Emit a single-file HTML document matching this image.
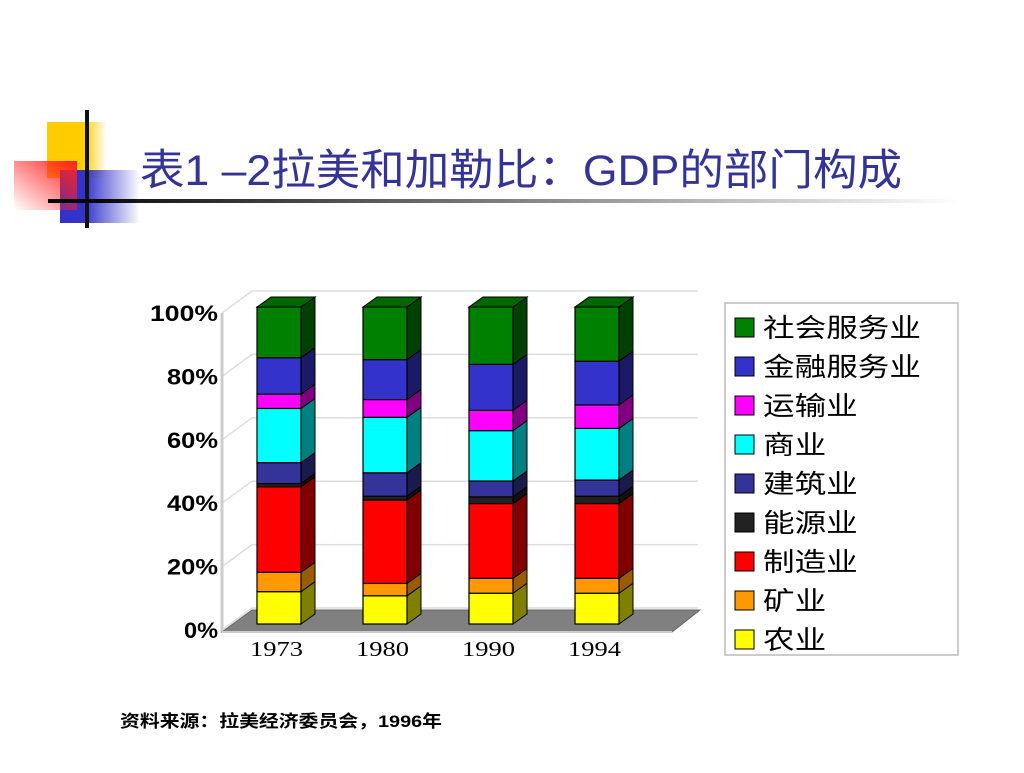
<!DOCTYPE html>
<html><head><meta charset="utf-8">
<style>
body{margin:0;width:1024px;height:768px;background:#fff;overflow:hidden;font-family:"Liberation Sans","Noto Sans CJK SC",sans-serif;}
</style></head>
<body>
<svg width="1024" height="768" viewBox="0 0 1024 768">
<defs>
<linearGradient id="gy" x1="0" x2="1"><stop offset="0.6" stop-color="#ffcc00"/><stop offset="1" stop-color="#ffcc00" stop-opacity="0"/></linearGradient>
<linearGradient id="gr" x1="1" x2="0" y1="0" y2="1"><stop offset="0" stop-color="#ff2020"/><stop offset="1" stop-color="#ff2020" stop-opacity="0"/></linearGradient>
<linearGradient id="gb" x1="0" x2="1"><stop offset="0.3" stop-color="#3333cc"/><stop offset="1" stop-color="#3333cc" stop-opacity="0"/></linearGradient>
<linearGradient id="gl" x1="0" x2="1"><stop offset="0" stop-color="#000"/><stop offset="1" stop-color="#000" stop-opacity="0"/></linearGradient>
</defs>
<g>
<rect x="47" y="122" width="60" height="56" fill="url(#gy)"/>
<rect x="60" y="170" width="80" height="53" fill="url(#gb)"/>
<rect x="14" y="161" width="63" height="49" fill="url(#gr)"/>
<rect x="85" y="110" width="4" height="118" fill="#111"/>
<rect x="48" y="199" width="912" height="4" fill="url(#gl)"/>
</g>
<text x="140" y="185" font-size="43" fill="#333399" textLength="762" lengthAdjust="spacingAndGlyphs">表1 –2拉美和加勒比：GDP的部门构成</text>
<g id="chart"></g>
<g>
<rect x="725" y="303" width="233" height="352" fill="#fff" stroke="#bbb" stroke-width="1.5"/>
<g id="legend"></g>
</g>
<text x="120" y="727" font-size="17" font-weight="bold" textLength="322" lengthAdjust="spacingAndGlyphs">资料来源：拉美经济委员会，1996年</text>
</svg>
<script>
const years=["1973","1980","1990","1994"];
const agri=[10.2,8.9,9.7,9.7];
const mining=[6.1,3.9,4.7,4.7];
const manuf=[27,26.3,23.6,23.6];
const energy=[1,1.2,2.1,2.3];
const constr=[6.6,7.4,5,5.1];
const commerce=[17.1,17.5,15.9,16.3];
const transport=[4.5,5.6,6.4,7.4];
const finance=[11.5,12.6,14.5,13.8];
const social=[16,16.6,18.1,17.1];
const ticks=["0%","20%","40%","60%","80%","100%"];
const seriesNames=["农业","矿业","制造业","能源业","建筑业","商业","运输业","金融服务业","社会服务业"];
const series=[agri,mining,manuf,energy,constr,commerce,transport,finance,social];
const fronts=["#ffff00","#ff9900","#ff0000","#222222","#333399","#00ffff","#ff00ff","#3333cc","#008000"];
const sides=["#808000","#995c00","#800000","#111111","#1a1a4d","#008080","#800080","#1a1a66","#004000"];
const tops=["#cccc00","#cc7a00","#cc0000","#1a1a1a","#29297a","#00cccc","#cc00cc","#2929a3","#006600"];
const NS="http://www.w3.org/2000/svg";
const chart=document.getElementById('chart');
function el(tag,attrs,parent){const e=document.createElementNS(NS,tag);for(const k in attrs)e.setAttribute(k,attrs[k]);(parent||chart).appendChild(e);return e;}
const y0=624, yScale=3.17;
function yFront(v){return y0-v*yScale;}
function xBar(i){return 257+i*106;}
const bw=44, dx=14, dy=10;
for(let i=0;i<ticks.length;i++){
  const ya=630-i*63.4;
  const g=el('polyline',{points:`222,${ya} 252,${ya-22} 698,${ya-22}`,fill:'none',stroke:'#ddd','stroke-width':1.5});
  
  
  const w=ticks[i].length*17;
  const t=el('text',{x:218-w,y:ya+8,'font-size':22,'font-weight':'bold',textLength:w,lengthAdjust:'spacingAndGlyphs'});
  t.textContent=ticks[i];
  
  
}
const ax=el('line',{x1:222,y1:313,x2:222,y2:632,stroke:'#ccc','stroke-width':3});


const floor=el('polygon',{points:'222,632 672,632 700,610 252,610',fill:'#808080',stroke:'#666'});


const xa=el('line',{x1:222,y1:632,x2:672,y2:632,stroke:'#ccc','stroke-width':2});


years.forEach((yr,i)=>{
  const x=xBar(i);
  let cum=0;
  series.forEach((s,k)=>{
    const v=s[i];
    const yb=yFront(cum), yt=yFront(cum+v);
    cum+=v;
    const side=el('polygon',{points:`${x+bw},${yb} ${x+bw+dx},${yb-dy} ${x+bw+dx},${yt-dy} ${x+bw},${yt}`,fill:sides[k],stroke:'#000','stroke-width':1});
    
    
    const r=el('rect',{x:x,y:yt,width:bw,height:yb-yt,fill:fronts[k],stroke:'#000','stroke-width':1.2});
    
    
    if(k===series.length-1){
      const tp=el('polygon',{points:`${x},${yt} ${x+dx},${yt-dy} ${x+bw+dx},${yt-dy} ${x+bw},${yt}`,fill:tops[k],stroke:'#000','stroke-width':1});
      
      
    }
  });
  const t=el('text',{x:x-7,y:656,'font-size':21,'font-family':'Liberation Serif, serif',textLength:53,lengthAdjust:'spacingAndGlyphs'});
  t.textContent=yr;
  
  
});
const lg=document.getElementById('legend');
for(let j=0;j<seriesNames.length;j++){
  const k=seriesNames.length-1-j;
  const y=318+j*39;
  const r=el('rect',{x:735,y:y,width:19,height:19,fill:fronts[k],stroke:'#000','stroke-width':1},lg);
  
  
  const t=el('text',{x:763,y:y+19,'font-size':26,textLength:seriesNames[k].length*31.6,lengthAdjust:'spacingAndGlyphs'},lg);
  t.textContent=seriesNames[k];
  
  
}
</script>
</body></html>
